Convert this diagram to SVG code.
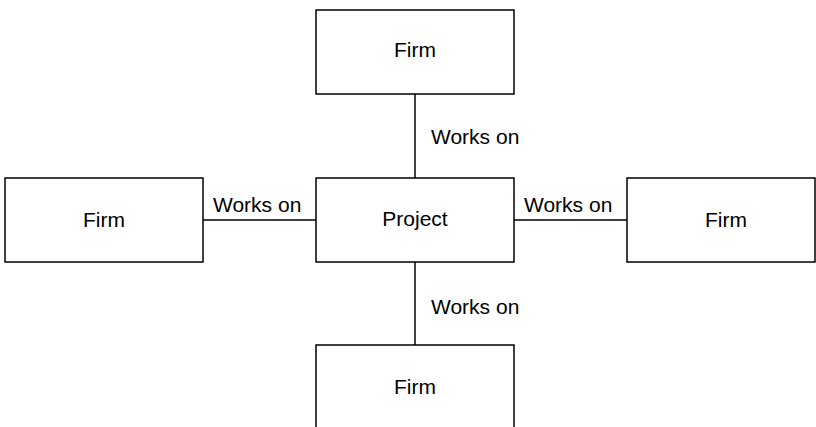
<svg xmlns="http://www.w3.org/2000/svg" width="816" height="427" viewBox="0 0 816 427">
  <style>
    .box { fill: #ffffff; stroke: #000000; stroke-width: 1.5; }
    .link { stroke: #000000; stroke-width: 1.5; fill: none; }
    .label { font-family: "Liberation Sans", Arial, sans-serif; font-size: 21px; fill: #000000; }
    .mid { text-anchor: middle; }
  </style>
  <rect width="816" height="427" fill="#ffffff"/>

  <!-- relationship lines -->
  <g id="connectors">
    <line class="link" x1="415" y1="94" x2="415" y2="178"/>
    <line class="link" x1="415" y1="262" x2="415" y2="345"/>
    <line class="link" x1="203" y1="220" x2="316" y2="220"/>
    <line class="link" x1="514" y1="220" x2="627" y2="220"/>
    <text class="label" x="431" y="144">Works on</text>
    <text class="label" x="431" y="314">Works on</text>
    <text class="label" x="213" y="211.5">Works on</text>
    <text class="label" x="524" y="211.5">Works on</text>
  </g>

  <g id="firm-top">
    <rect class="box" x="316" y="10" width="198" height="84"/>
    <text class="label mid" x="415" y="57">Firm</text>
  </g>

  <g id="firm-left">
    <rect class="box" x="5" y="178" width="198" height="84"/>
    <text class="label mid" x="104" y="226.5">Firm</text>
  </g>

  <g id="project">
    <rect class="box" x="316" y="178" width="198" height="84"/>
    <text class="label mid" x="415" y="226">Project</text>
  </g>

  <g id="firm-right">
    <rect class="box" x="627" y="178" width="188" height="84"/>
    <text class="label mid" x="726" y="226.5">Firm</text>
  </g>

  <g id="firm-bottom">
    <rect class="box" x="316" y="345" width="198" height="100"/>
    <text class="label mid" x="415" y="394">Firm</text>
  </g>
</svg>
